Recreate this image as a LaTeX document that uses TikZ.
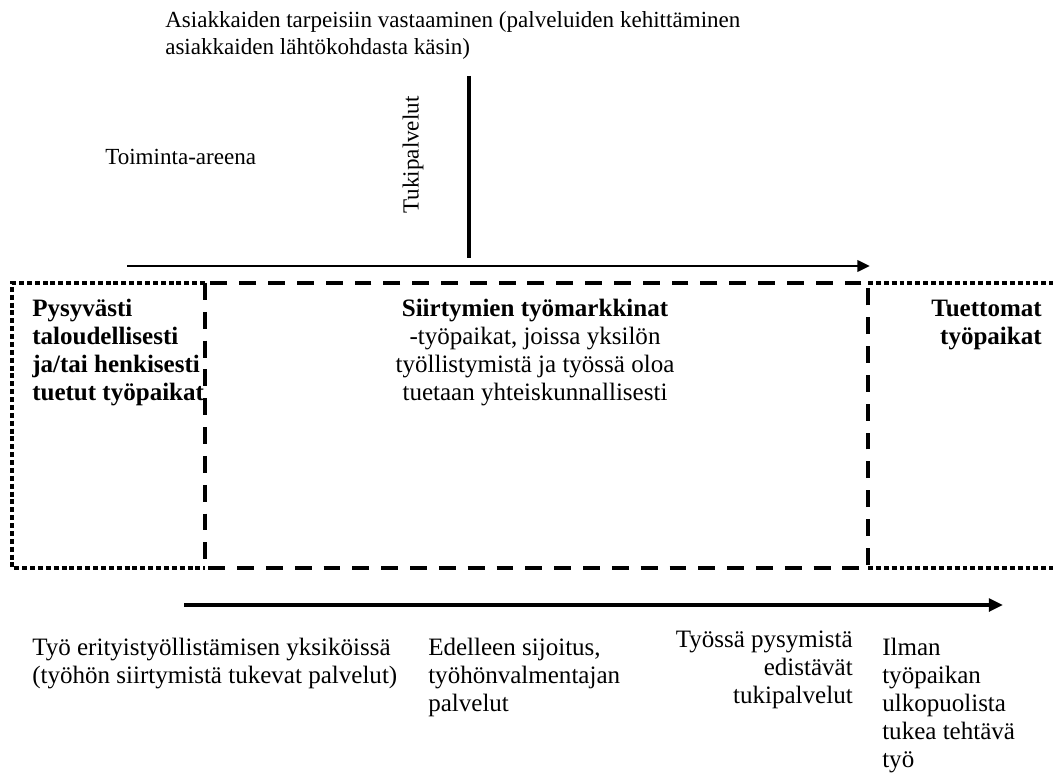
\documentclass[tikz,border=0pt]{standalone}
\usepackage{fontspec}
\setmainfont{Liberation Serif}
\usetikzlibrary{arrows.meta}

\begin{document}
\begin{tikzpicture}[x=0.025cm, y=-0.025cm,
    txt/.style={inner sep=0pt, font=\fontsize{17.8}{19.9}\selectfont},
    smalltxt/.style={inner sep=0pt, font=\fontsize{16.4}{19.9}\selectfont},
    btxt/.style={txt, font=\fontsize{17.8}{19.9}\selectfont\bfseries},
    dotline/.style={line width=3pt, dash pattern=on 3.5pt off 2.1pt},
    dashline/.style={line width=3.2pt, dash pattern=on 12pt off 8.5pt}]
  \useasboundingbox (0,0) rectangle (1053,775);
  % top texts (base = last line)
  \node[smalltxt, anchor=base west, align=left] (asiakas) at (165,55) {Asiakkaiden tarpeisiin vastaaminen (palveluiden kehittäminen\\asiakkaiden lähtökohdasta käsin)};
  \node[smalltxt, anchor=base west] (areena) at (105,164) {Toiminta-areena};
  \node[smalltxt, rotate=90] (tuki) at (413,155) {Tukipalvelut};
  \coordinate (v1) at (469,76);
  \coordinate (v2) at (469,258);
  \draw[line width=2.2pt] (v1) -- (v2);
  \coordinate (a1) at (127,266);
  \coordinate (a2) at (870,266);
  \draw[line width=2pt, -{Triangle[length=9pt,width=8pt]}] (a1) -- (a2);
  % boxes
  \draw[dotline] (205,283) -- (12,283) -- (12,568) -- (205,568);
  \draw[dotline] (868,283) -- (1053,283);
  \draw[dotline] (868,568) -- (1053,568);
  \draw[dashline] (205,283) rectangle (868,568);
  % box texts
  \node[btxt, anchor=base west, align=left] (pysyva) at (32,400) {Pysyvästi\\taloudellisesti\\ja/tai henkisesti\\tuetut työpaikat};
  \node[txt, anchor=base, align=center] (siirtyma) at (535,400) {\textbf{Siirtymien työmarkkinat}\\-työpaikat, joissa yksilön\\työllistymistä ja työssä oloa\\tuetaan yhteiskunnallisesti};
  \node[btxt, anchor=base east, align=right] (tuettomat) at (1042,344) {Tuettomat\\työpaikat};
  % bottom arrow and texts
  \coordinate (b1) at (184,605);
  \coordinate (b2) at (1003,605);
  \draw[line width=3.4pt, -{Triangle[length=10pt,width=9pt]}] (b1) -- (b2);
  \node[txt, anchor=base west, align=left] (eritys) at (32,683) {Työ erityistyöllistämisen yksiköissä\\(työhön siirtymistä tukevat palvelut)};
  \node[txt, anchor=base west, align=left] (sijoitus) at (428,711) {Edelleen sijoitus,\\työhönvalmentajan\\palvelut};
  \node[txt, anchor=base east, align=right] (pysyminen) at (853,703) {Työssä pysymistä\\edistävät\\tukipalvelut};
  \node[txt, anchor=base west, align=left] (ilman) at (882,767) {Ilman\\työpaikan\\ulkopuolista\\tukea tehtävä\\työ};
\end{tikzpicture}
\end{document}
